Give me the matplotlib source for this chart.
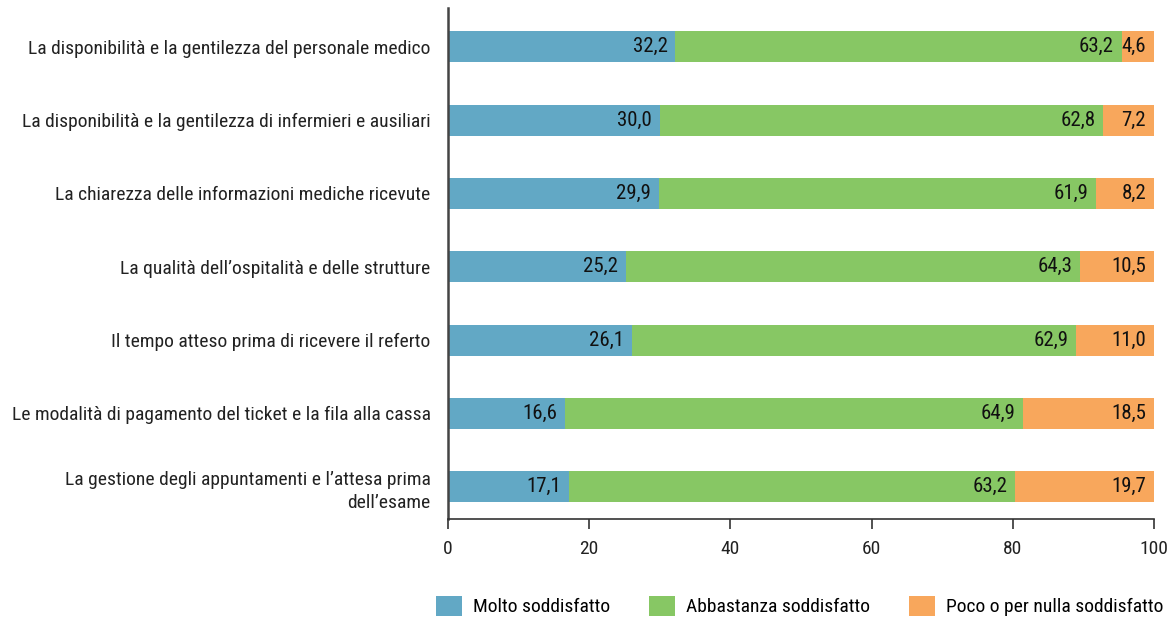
import matplotlib
matplotlib.use("Agg")
import matplotlib.pyplot as plt
from matplotlib.patches import Patch
from matplotlib import font_manager

categories = [
    "La disponibilità e la gentilezza del personale medico",
    "La disponibilità e la gentilezza di infermieri e ausiliari",
    "La chiarezza delle informazioni mediche ricevute",
    "La qualità dell’ospitalità e delle strutture",
    "Il tempo atteso prima di ricevere il referto",
    "Le modalità di pagamento del ticket e la fila alla cassa",
    "La gestione degli appuntamenti e l’attesa prima\ndell’esame",
]
molto = [32.2, 30.0, 29.9, 25.2, 26.1, 16.6, 17.1]
abbastanza = [63.2, 62.8, 61.9, 64.3, 62.9, 64.9, 63.2]
poco = [4.6, 7.2, 8.2, 10.5, 11.0, 18.5, 19.7]
series_names = ["Molto soddisfatto", "Abbastanza soddisfatto", "Poco o per nulla soddisfatto"]
colors = ["#62a8c5", "#87c764", "#f8a75c"]
xticks = [0, 20, 40, 60, 80, 100]

names = {f.name for f in font_manager.fontManager.ttflist}
fam = [f for f in ["Roboto Condensed", "Liberation Sans Narrow", "Roboto", "DejaVu Sans"] if f in names]
plt.rcParams['font.family'] = fam

fig = plt.figure(figsize=(11.72, 6.18), dpi=100)
ax = fig.add_axes([448 / 1172, 1 - 519 / 618, (1154 - 448) / 1172, (519 - 8) / 618])

y = list(range(len(categories)))
h = 0.42
left = [0] * len(y)
for vals, c in zip([molto, abbastanza, poco], colors):
    ax.barh(y, vals, left=left, height=h, color=c, edgecolor='none')
    for yi, l, v in zip(y, left, vals):
        ax.text(l + v - 1.1, yi, f"{v:.1f}".replace('.', ','), ha='right', va='center',
                fontsize=15, color='#111111')
    left = [a + b for a, b in zip(left, vals)]

ax.set_xlim(0, 100)
ax.set_ylim(6 + 0.44, -0.53)
ax.set_yticks(y)
ax.set_yticklabels(categories, fontsize=14, color='#222222', linespacing=1.4)
ax.tick_params(axis='y', length=0, pad=12.5)
ax.set_xticks(xticks)
ax.set_xticklabels([str(t) for t in xticks], fontsize=14, color='#222222')
ax.tick_params(axis='x', length=7, width=1.2, color='#333333', pad=8)
for s in ['top', 'right']:
    ax.spines[s].set_visible(False)
ax.spines['left'].set_color('#444444')
ax.spines['left'].set_linewidth(1.8)
ax.spines['bottom'].set_color('#333333')
ax.spines['bottom'].set_linewidth(1.2)

handles = [Patch(facecolor=c, edgecolor='none') for c in colors]
fig.legend(handles, series_names, loc='center', bbox_to_anchor=(800 / 1172, 1 - 606 / 618),
           ncol=3, frameon=False, fontsize=14, handlelength=1.3, handleheight=1.2,
           columnspacing=2.0, handletextpad=0.6, borderpad=0.2)

fig.savefig("out.png", dpi=100)
